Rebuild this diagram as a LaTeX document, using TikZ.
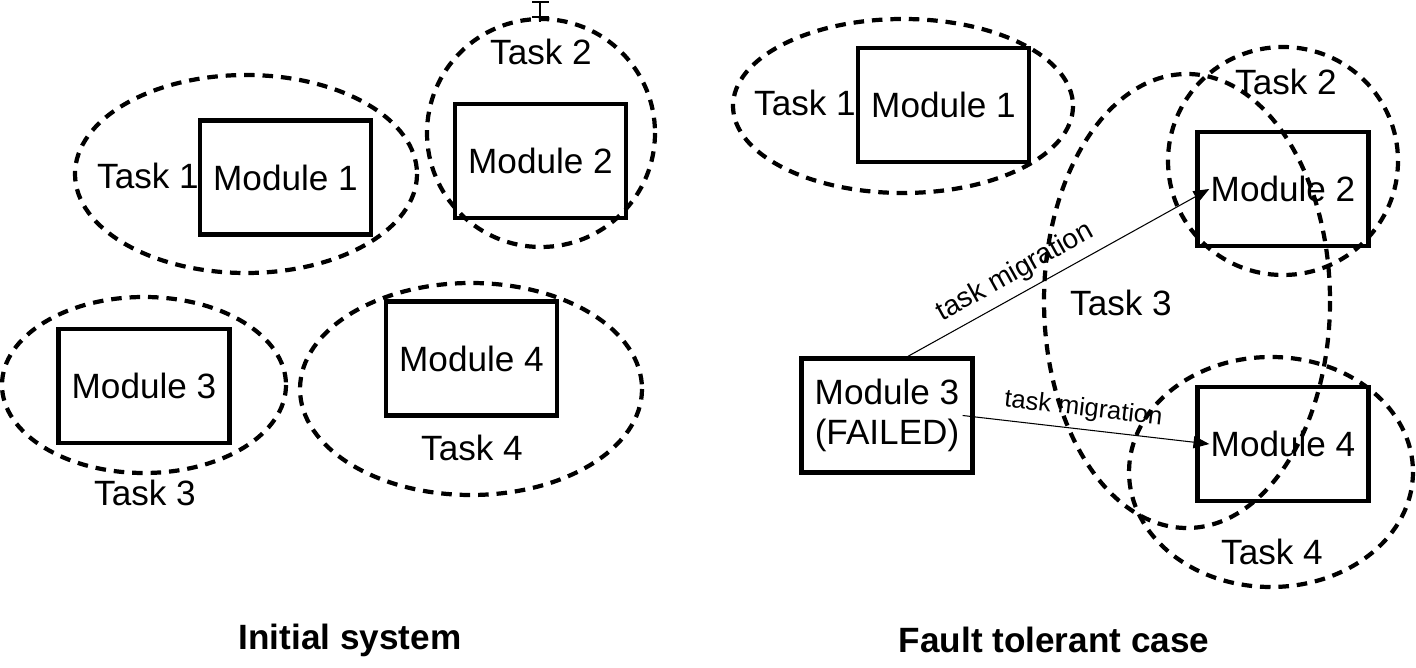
\documentclass[tikz,border=0pt]{standalone}
\usepackage{fontspec}
\setmainfont{Liberation Sans}
\usetikzlibrary{arrows.meta}

\begin{document}
\begin{tikzpicture}[x=0.02cm,y=-0.02cm,
        module/.style={draw, line width=2.5pt, minimum width=3.42cm, minimum height=2.28cm,
            inner sep=0pt, align=center, font=\fontsize{20}{22.7}\selectfont},
        taskline/.style={line width=2.4pt, dash pattern=on 6pt off 4.5pt},
        tasklabel/.style={font=\fontsize{20}{22}\selectfont},
        caption/.style={font=\fontsize{20}{24}\selectfont\bfseries},
        migrate/.style={line width=0.6pt, -{Triangle[length=9pt,width=7pt]}}]
        \useasboundingbox (0,0) rectangle (1416,668);
        % initial system
        \draw[taskline] (246,174) ellipse [x radius=171, y radius=99];
        \draw[taskline] (541,133) ellipse [x radius=114, y radius=114];
        \draw[taskline] (144,385) ellipse [x radius=142, y radius=88];
        \draw[taskline] (471,389) ellipse [x radius=171, y radius=106];
        \draw[line width=1.5pt] (532,2) -- (549,2) (540,2) -- (540,22) (532,17) -- (549,17);
        \node[module] (m1) at (285.5,177.5) {Module 1};
        \node[module] (m2) at (540.5,161) {Module 2};
        \node[module] (m3) at (144,386) {Module 3};
        \node[module] (m4) at (471.5,358.5) {Module 4};
        \node[tasklabel] (t1) at (148,176) {Task 1};
        \node[tasklabel] (t2) at (541,52) {Task 2};
        \node[tasklabel] (t3) at (145,493) {Task 3};
        \node[tasklabel] (t4) at (472,448) {Task 4};
        \node[caption] (init) at (350,640) {Initial system};
        % fault tolerant case
        \draw[taskline] (903,106) ellipse [x radius=170, y radius=87];
        \draw[taskline] (1283,161) ellipse [x radius=115, y radius=114];
        \draw[taskline] (1187,301) ellipse [x radius=143, y radius=227];
        \draw[taskline] (1271,472) ellipse [x radius=142, y radius=115];
        \node[module] (m1r) at (943.5,105) {Module 1};
        \node[module] (m2r) at (1283,189) {Module 2};
        \node[module] (m3r) at (887,415.5) {Module 3\\(FAILED)};
        \node[module] (m4r) at (1283,444) {Module 4};
        \node[tasklabel] (t1r) at (805,103) {Task 1};
        \node[tasklabel] (t2r) at (1286,82) {Task 2};
        \node[tasklabel] (t3r) at (1121,303) {Task 3};
        \node[tasklabel] (t4r) at (1272,552) {Task 4};
        \node[caption] (fault) at (1054,640) {Fault tolerant case};
        \draw[migrate] ([xshift=0.42cm]m3r.north) -- ([xshift=0.28cm]m2r.west)
            node[pos=0.39, sloped, above=1pt, font=\fontsize{16}{18}\selectfont] {task migration};
        \draw[migrate] ([xshift=-0.24cm]m3r.east) -- ([xshift=0.28cm]m4r.west)
            node[pos=0.48, sloped, above=1pt, font=\fontsize{14.5}{16}\selectfont] {task migration};
\end{tikzpicture}
\end{document}
